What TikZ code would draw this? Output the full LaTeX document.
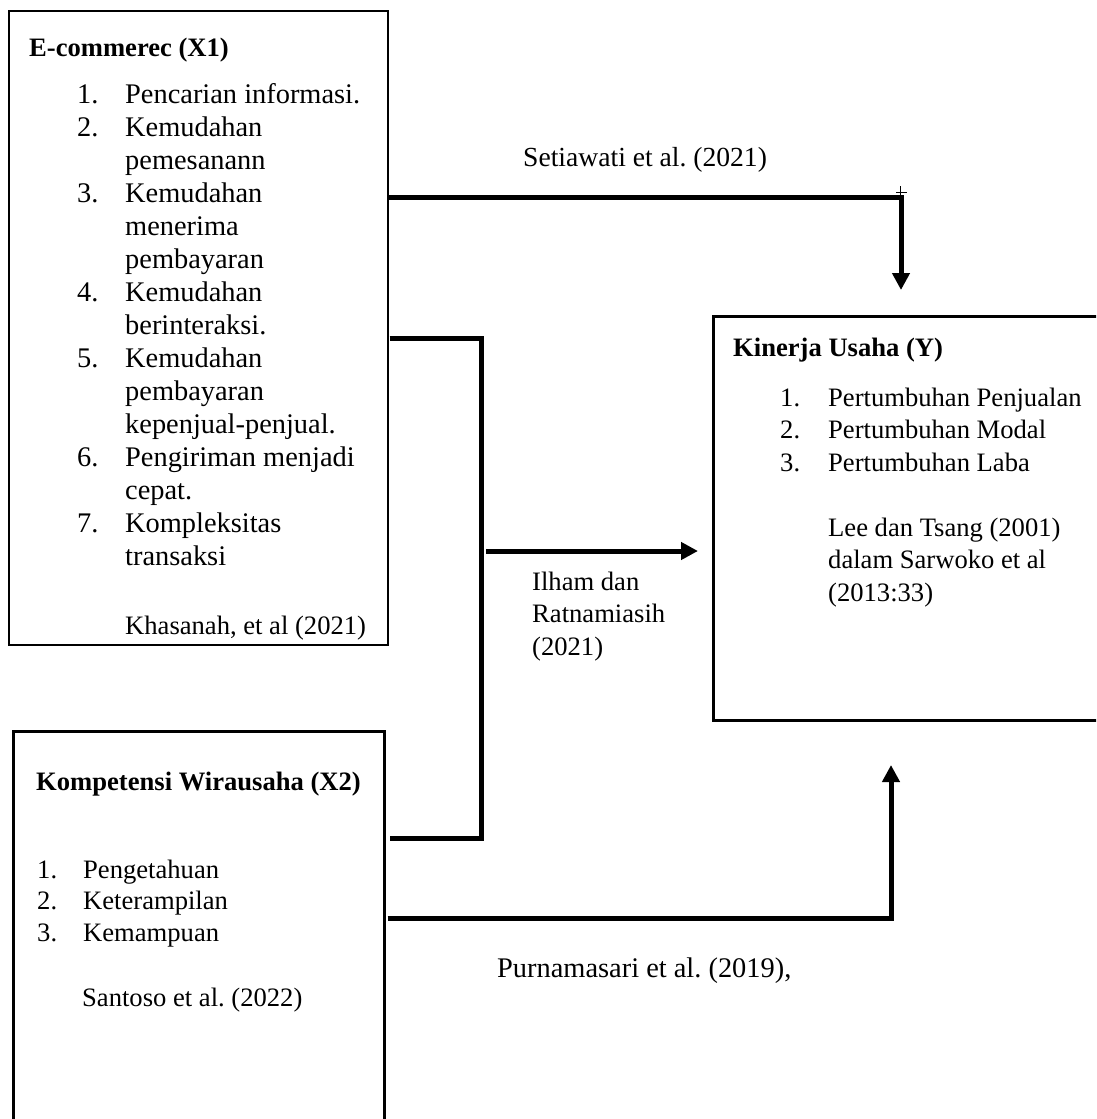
\documentclass[tikz,border=0pt]{standalone}
\usepackage{fontspec}
\setmainfont{Liberation Serif}
\usetikzlibrary{arrows.meta}
\frenchspacing
\begin{document}
\begin{tikzpicture}[x=1pt,y=-1pt,
  thinbox/.style={draw,line width=1.5pt,inner sep=0pt,anchor=north west},
  thickbox/.style={draw,line width=2.6pt,inner sep=0pt,anchor=north west},
  txt/.style={anchor=base west,inner sep=0pt,font=\fontsize{28.4}{33}\selectfont},
  stxt/.style={anchor=base west,inner sep=0pt,font=\fontsize{26.6}{32.5}\selectfont},
  conn/.style={line width=5pt,line join=miter},
  arr/.style={conn,-{Triangle[width=17pt,length=17pt]}}]
\useasboundingbox (0,0) rectangle (1096,1119);
\clip (0,0) rectangle (1096,1119);
\fill[white] (0,0) rectangle (1096,1119);
% boxes
\node[thinbox,minimum width=379pt,minimum height=634pt] (x1) at (8,10) {};
\node[thickbox,minimum width=410pt,minimum height=404pt] (y) at (712,315) {};
\node[thickbox,minimum width=371pt,minimum height=420pt] (x2) at (12,730) {};
% X1 text
\node[stxt] (x1t) at (29,56) {\textbf{E-commerec (X1)}};
\node[txt] (x1l) at (77,103) {\begin{tabular}[t]{@{}p{48pt}@{}l@{}}
1. & Pencarian informasi.\\
2. & Kemudahan\\
 & pemesanann\\
3. & Kemudahan\\
 & menerima\\
 & pembayaran\\
4. & Kemudahan\\
 & berinteraksi.\\
5. & Kemudahan\\
 & pembayaran\\
 & kepenjual-penjual.\\
6. & Pengiriman menjadi\\
 & cepat.\\
7. & Kompleksitas\\
 & transaksi
\end{tabular}};
\node[stxt] (x1r) at (125,634) {Khasanah, et al (2021)};
% Y text
\node[stxt] (yt) at (733,356) {\textbf{Kinerja Usaha (Y)}};
\node[stxt] (yl) at (780,406) {\begin{tabular}[t]{@{}p{48pt}@{}l@{}}
1. & Pertumbuhan Penjualan\\
2. & Pertumbuhan Modal\\
3. & Pertumbuhan Laba
\end{tabular}};
\node[stxt] (yr) at (828,536) {\begin{tabular}[t]{@{}l@{}}Lee dan Tsang (2001)\\dalam Sarwoko et al\\(2013:33)\end{tabular}};
% X2 text
\node[stxt] (x2t) at (36,790) {\textbf{Kompetensi Wirausaha (X2)}};
\node[stxt] (x2l) at (37,878) {\begin{tabular}[t]{@{}p{46pt}@{}l@{}}
1. & Pengetahuan\\[-1pt]
2. & Keterampilan\\[-1pt]
3. & Kemampuan
\end{tabular}};
\node[stxt] (x2r) at (82,1006) {Santoso et al. (2022)};
% labels
\node[txt,font=\fontsize{27.6}{33}\selectfont] (l1) at (523,166) {Setiawati et al. (2021)};
\node[stxt] (l2) at (532,590) {\begin{tabular}[t]{@{}l@{}}Ilham dan\\Ratnamiasih\\(2021)\end{tabular}};
\node[txt] (l3) at (497,977) {Purnamasari et al. (2019),};
% connectors
\coordinate (a1) at (x1.north east |- 0,197);
\coordinate (t1) at (901,290);
\draw[arr] (a1) -| (t1);
\draw[line width=0.8pt] (900,186) -- (900,199) (896,192) -- (907,192);
\coordinate (b1) at (x1.north east |- 0,338);
\coordinate (b2) at (x2.north east |- 0,838);
\draw[conn] ([xshift=1pt]b1) -- (481,338) -- (481,838) -- ([xshift=4pt]b2);
\coordinate (m1) at (486,551);
\coordinate (m2) at (698,551);
\draw[arr] (m1) -- (m2);
\coordinate (c1) at (x2.north east |- 0,918);
\coordinate (t2) at (891,765);
\draw[arr] ([xshift=2pt]c1) -| (t2);
\end{tikzpicture}
\end{document}
